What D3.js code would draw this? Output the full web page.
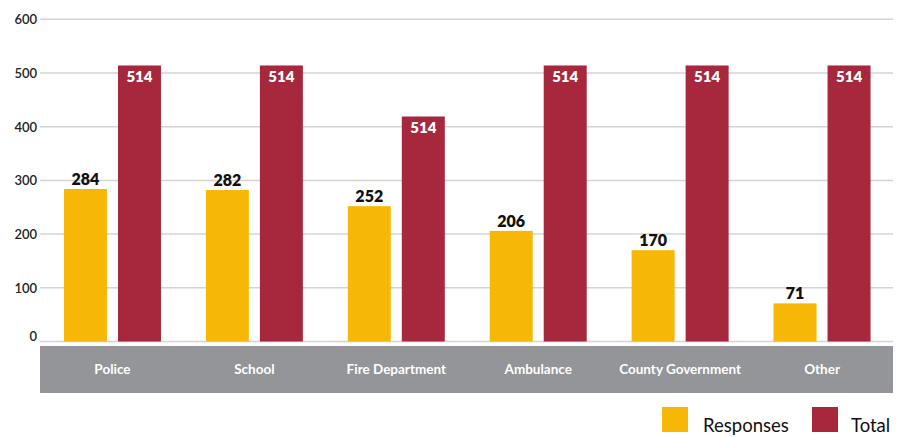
<!DOCTYPE html>
<html>
<head>
<meta charset="utf-8">
<script src="https://cdnjs.cloudflare.com/ajax/libs/d3/7.8.5/d3.min.js"></script>
<style>
  body { margin: 0; background: #fff; }
  svg { display: block; font-family: Lato, "Open Sans", sans-serif; }
</style>
</head>
<body>
<div id="chart"></div>
<script>
// chart data
const categories = ["Police", "School", "Fire Department", "Ambulance", "County Government", "Other"];
const responses = [284, 282, 252, 206, 170, 71];
const totals = [514, 514, 419, 514, 514, 514];
const totalLabels = ["514", "514", "514", "514", "514", "514"];
const yTicks = [0, 100, 200, 300, 400, 500, 600];
const seriesNames = ["Responses", "Total"];

const width = 903;
const height = 437;
const colors = { Responses: "#F7B707", Total: "#A7273C" };

const svg = d3.select("#chart")
  .append("svg")
  .attr("width", width)
  .attr("height", height);

// scales
const y = d3.scaleLinear().domain([0, 600]).range([341.5, 19.3]);
const x0 = d3.scaleBand().domain(categories).range([41.5, 893]).padding(0);
const x1 = d3.scaleBand()
  .domain(seriesNames)
  .range([x0.bandwidth() / 2 - 48.5, x0.bandwidth() / 2 + 48.5])
  .paddingInner(0.204);

// gridlines
svg.append("g")
  .selectAll("line")
  .data(yTicks)
  .enter()
  .append("line")
  .attr("x1", 40)
  .attr("x2", 893)
  .attr("y1", d => y(d))
  .attr("y2", d => y(d))
  .attr("stroke", "#d4d4d4")
  .attr("stroke-width", 1.5);

// y axis labels
svg.append("g")
  .selectAll("text")
  .data(yTicks)
  .enter()
  .append("text")
  .attr("x", 37)
  .attr("y", d => y(d) + (d === 0 ? -1 : 5))
  .attr("text-anchor", "end")
  .attr("font-size", 13)
  .attr("font-weight", 600)
  .attr("fill", "#222")
  .text(d => d);

// category band
svg.append("rect")
  .attr("x", 40)
  .attr("y", 346)
  .attr("width", 853)
  .attr("height", 47)
  .attr("fill", "#939598");

svg.append("g")
  .selectAll("text")
  .data(categories)
  .enter()
  .append("text")
  .attr("x", d => x0(d) + x0.bandwidth() / 2)
  .attr("y", 374)
  .attr("text-anchor", "middle")
  .attr("font-size", 13.5)
  .attr("font-weight", 700)
  .attr("fill", "#fff")
  .text(d => d);

// bars
const rows = categories.map((c, i) => ({
  category: c,
  Responses: responses[i],
  Total: totals[i],
  totalLabel: totalLabels[i]
}));

const groups = svg.append("g")
  .selectAll("g")
  .data(rows)
  .enter()
  .append("g")
  .attr("transform", d => "translate(" + x0(d.category) + ",0)");

groups.selectAll("rect")
  .data(d => seriesNames.map(s => ({ key: s, value: d[s] })))
  .enter()
  .append("rect")
  .attr("x", d => x1(d.key))
  .attr("width", x1.bandwidth())
  .attr("y", d => y(d.value))
  .attr("height", d => y(0) - y(d.value))
  .attr("fill", d => colors[d.key]);

// value labels
groups.append("text")
  .attr("x", x1("Responses") + x1.bandwidth() / 2)
  .attr("y", d => y(d.Responses) - 4)
  .attr("text-anchor", "middle")
  .attr("font-size", 16)
  .attr("font-weight", 800)
  .attr("fill", "#111")
  .text(d => d.Responses);

groups.append("text")
  .attr("x", x1("Total") + x1.bandwidth() / 2)
  .attr("y", d => y(d.Total) + 17)
  .attr("text-anchor", "middle")
  .attr("font-size", 15)
  .attr("font-weight", 800)
  .attr("fill", "#fff")
  .text(d => d.totalLabel);

// legend
const legendX = [662, 812];
const legend = svg.append("g")
  .selectAll("g")
  .data(seriesNames)
  .enter()
  .append("g")
  .attr("transform", (d, i) => "translate(" + legendX[i] + ",407)");

legend.append("rect")
  .attr("width", 26)
  .attr("height", 25)
  .attr("fill", d => colors[d]);

legend.append("text")
  .attr("x", (d, i) => i === 0 ? 41 : 39)
  .attr("y", 25)
  .attr("font-size", 18.5)
  .attr("fill", "#111")
  .text(d => d);
</script>
</body>
</html>
